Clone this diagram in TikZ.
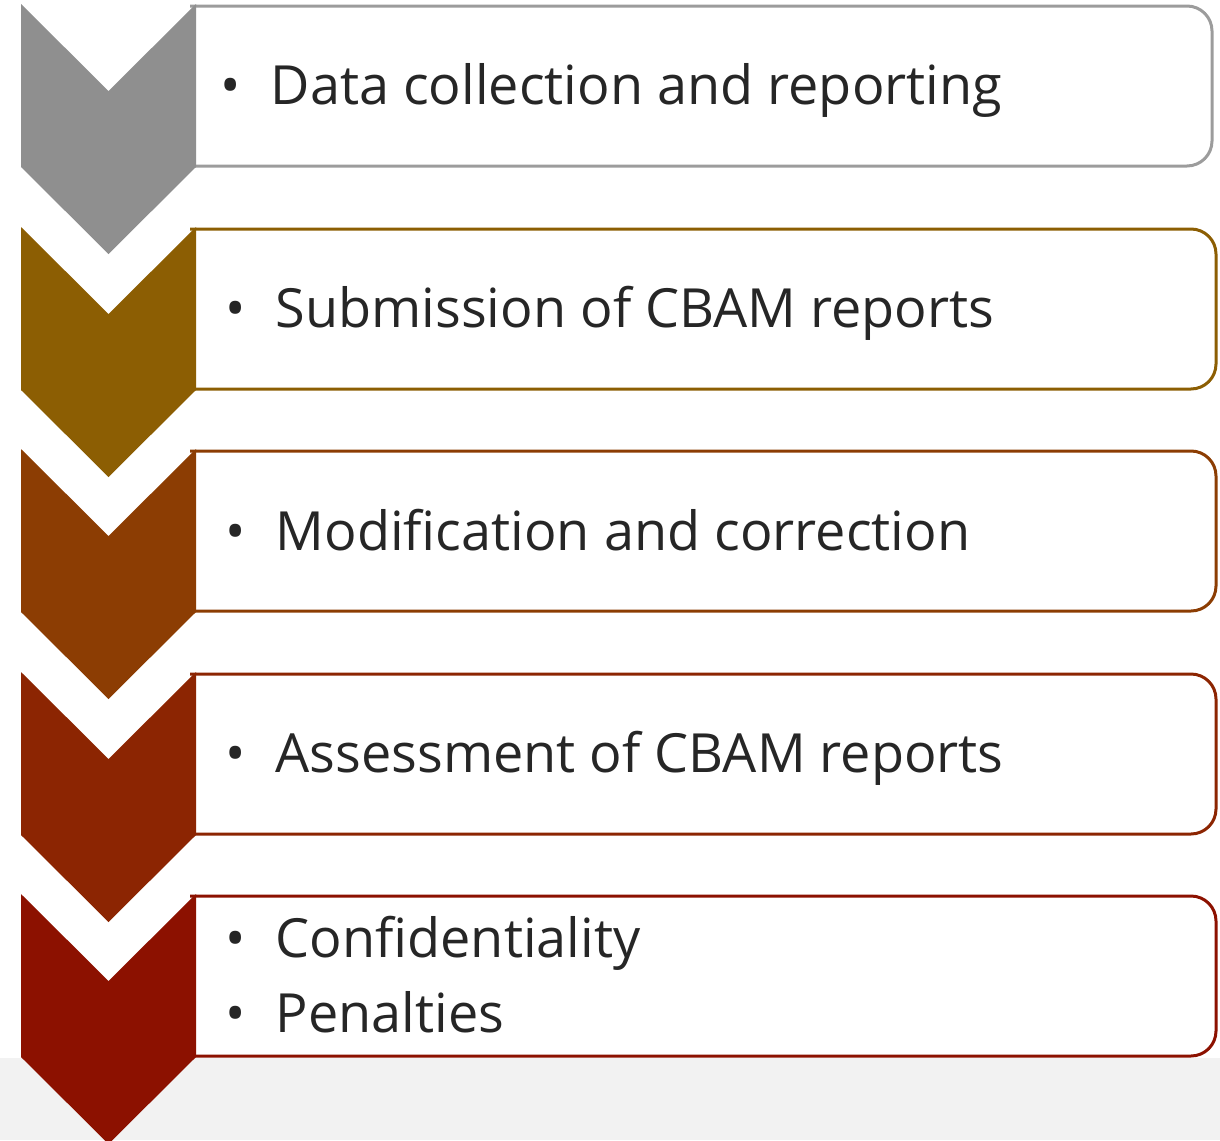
\documentclass[tikz,border=0pt]{standalone}
\usepackage{fontspec}
\setmainfont{Open Sans}
\usepackage{tikz}

\definecolor{stepgray}{HTML}{8F8F8F}
\definecolor{stepgrayline}{HTML}{9C9C9C}
\definecolor{stepochre}{HTML}{8C5E03}
\definecolor{steprust}{HTML}{8C3D03}
\definecolor{stepbrick}{HTML}{8C2502}
\definecolor{stepred}{HTML}{8C1100}
\definecolor{bandgray}{HTML}{F2F2F2}
\definecolor{textgray}{HTML}{262626}

\begin{document}
\begin{tikzpicture}[x=0.5pt, y=-0.5pt,
    chevron/.style={fill=#1, draw=none},
    stepbox/.style={draw=#1, line width=1.5pt, fill=white, rounded corners=12.5pt},
    steptext/.style={anchor=base west, inner sep=0pt, text=textgray,
        font=\fontsize{27}{37}\selectfont}]
    \useasboundingbox (0, 0) rectangle (1220, 1140);
    \fill[bandgray] (0, 1058) rectangle (1220, 1140);

    % boxes, then the chevrons on top of their left ends
    \filldraw[stepbox=stepgrayline] (190, 6) -- (1212, 6) -- (1212, 166) -- (190, 166);
    \filldraw[stepbox=stepochre] (190, 229) -- (1216, 229) -- (1216, 389) -- (190, 389);
    \filldraw[stepbox=steprust] (190, 451) -- (1216, 451) -- (1216, 611) -- (190, 611);
    \filldraw[stepbox=stepbrick] (190, 674) -- (1216, 674) -- (1216, 834) -- (190, 834);
    \filldraw[stepbox=stepred] (190, 896) -- (1216, 896) -- (1216, 1056) -- (190, 1056);

    \foreach \t/\c in {4/stepgray, 227/stepochre, 449/steprust, 672/stepbrick, 894/stepred}
        \fill[chevron=\c] (21, \t) -- (108.5, \t+87) -- (196, \t) -- (196, \t+163)
            -- (108.5, \t+250) -- (21, \t+163) -- cycle;

    % texts
    \node[steptext] (collect) at (220, 104) {\textbullet\hspace{15pt}Data collection and reporting};
    \node[steptext] (submit) at (225, 327) {\textbullet\hspace{15pt}Submission of CBAM reports};
    \node[steptext] (modify) at (225, 550) {\textbullet\hspace{15pt}Modification and correction};
    \node[steptext] (assess) at (225, 772) {\textbullet\hspace{15pt}Assessment of CBAM reports};
    \node[steptext] (confid) at (225, 957) {\textbullet\hspace{15pt}Confidentiality};
    \node[steptext] (penalty) at (225, 1032) {\textbullet\hspace{15pt}Penalties};
\end{tikzpicture}
\end{document}
